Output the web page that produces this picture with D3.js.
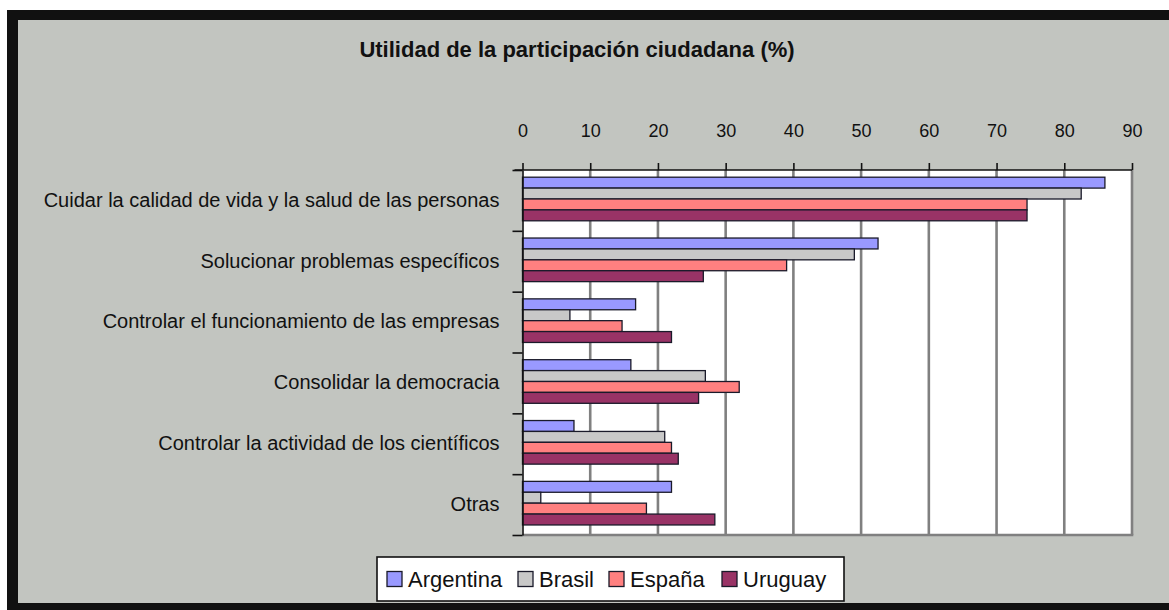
<!DOCTYPE html>
<html>
<head>
<meta charset="utf-8">
<script src="https://cdn.jsdelivr.net/npm/d3@7/dist/d3.min.js"></script>
<style>
  html, body { margin: 0; padding: 0; background: #ffffff; }
  svg { display: block; }
  text { font-family: "Liberation Sans", Arial, sans-serif; fill: #111; }
</style>
</head>
<body>
<svg id="chart" width="1169" height="610"></svg>
<script>
// Categories (top to bottom) and percentage per country
const categories = [
  "Cuidar la calidad de vida y la salud de las personas",
  "Solucionar problemas específicos",
  "Controlar el funcionamiento de las empresas",
  "Consolidar la democracia",
  "Controlar la actividad de los científicos",
  "Otras"
];
const countries = ["Argentina", "Brasil", "España", "Uruguay"];
const argentina = [86, 52.5, 16.7, 16, 7.6, 22];
const brasil    = [82.5, 49, 7, 27, 21, 2.7];
const espana    = [74.5, 39, 14.7, 32, 22, 18.3];
const uruguay   = [74.5, 26.7, 22, 26, 23, 28.4];
const xTicks = [0, 10, 20, 30, 40, 50, 60, 70, 80, 90];
const title = "Utilidad de la participación ciudadana (%)";

const seriesValues = [argentina, brasil, espana, uruguay];
const colors = ["#9999ff", "#c8c8c8", "#ff8080", "#993366"];

const svg = d3.select("#chart");
const W = 1169, H = 610;

// chart area background and frame
svg.append("rect").attr("x", 0).attr("y", 0).attr("width", W).attr("height", H).attr("fill", "#ffffff");
svg.append("rect").attr("x", 7).attr("y", 10).attr("width", W - 7).attr("height", H - 10).attr("fill", "#111111");
svg.append("rect").attr("x", 18).attr("y", 20).attr("width", W - 18).attr("height", 583).attr("fill", "#c2c5c0");

// plot geometry
const plot = { left: 522.5, right: 1132, top: 170, bottom: 535 };

const x = d3.scaleLinear().domain([0, 90]).range([plot.left, plot.right]);
const y = d3.scaleBand().domain(categories).range([plot.top, plot.bottom]);
const yInner = d3.scaleBand().domain(countries).range([7.2, 50.8]);
const yEdge = d3.scaleLinear().domain([0, categories.length]).range([plot.top, plot.bottom]);

// plot area
svg.append("rect")
  .attr("x", plot.left).attr("y", plot.top)
  .attr("width", plot.right - plot.left).attr("height", plot.bottom - plot.top)
  .attr("fill", "#ffffff");

// vertical gridlines
svg.append("g").selectAll("line").data(xTicks.slice(1)).join("line")
  .attr("x1", d => x(d)).attr("x2", d => x(d))
  .attr("y1", plot.top).attr("y2", plot.bottom)
  .attr("stroke", "#808080").attr("stroke-width", 2.6);

// bottom border of the plot
svg.append("line")
  .attr("x1", plot.left).attr("x2", plot.right + 1.3)
  .attr("y1", plot.bottom).attr("y2", plot.bottom)
  .attr("stroke", "#808080").attr("stroke-width", 2.6);

// bars
const rows = [];
categories.forEach((c, i) => {
  countries.forEach((s, j) => rows.push({ cat: c, country: s, value: seriesValues[j][i], color: colors[j] }));
});
svg.append("g").selectAll("rect").data(rows).join("rect")
  .attr("x", x(0))
  .attr("y", d => y(d.cat) + yInner(d.country))
  .attr("width", d => x(d.value) - x(0))
  .attr("height", yInner.bandwidth())
  .attr("fill", d => d.color)
  .attr("stroke", "#1a1a2a").attr("stroke-width", 1.3);

// top value axis
const xAxis = svg.append("g")
  .attr("transform", `translate(0,${plot.top})`)
  .call(d3.axisTop(x).tickValues(xTicks).tickSizeInner(7).tickSizeOuter(0).tickPadding(26).tickFormat(d3.format("d")));
xAxis.select(".domain").attr("stroke", "#111").attr("stroke-width", 1.6)
  .attr("d", `M${plot.left - 8},0H${plot.right}`);
xAxis.selectAll(".tick line").attr("stroke", "#111").attr("stroke-width", 1.6);
xAxis.selectAll(".tick text").style("font-size", "18px").attr("fill", "#111");

// left category axis: tick marks on the band edges
const yTickAxis = svg.append("g")
  .attr("transform", `translate(${plot.left},0)`)
  .call(d3.axisLeft(yEdge).tickValues(d3.range(categories.length + 1)).tickSizeInner(10).tickSizeOuter(0).tickFormat(""));
yTickAxis.select(".domain").attr("stroke", "#111").attr("stroke-width", 1.6);
yTickAxis.selectAll(".tick line").attr("stroke", "#111").attr("stroke-width", 1.6);

// left category axis: labels centred on each band
const yLabelAxis = svg.append("g")
  .attr("transform", `translate(${plot.left},0)`)
  .call(d3.axisLeft(y).tickSize(0).tickPadding(23));
yLabelAxis.select(".domain").remove();
yLabelAxis.selectAll(".tick text").style("font-size", "20px").attr("fill", "#111");

// title
svg.append("text")
  .attr("x", 577).attr("y", 57)
  .attr("text-anchor", "middle")
  .style("font-size", "22px").style("font-weight", "bold")
  .text(title);

// legend
const legend = svg.append("g");
legend.append("rect")
  .attr("x", 377).attr("y", 557).attr("width", 467).attr("height", 44)
  .attr("fill", "#ffffff").attr("stroke", "#111").attr("stroke-width", 1.6);
const legendX = [387, 518, 609, 722];
const items = legend.selectAll("g.item").data(countries).join("g")
  .attr("class", "item")
  .attr("transform", (d, i) => `translate(${legendX[i]},579)`);
items.append("rect")
  .attr("x", 0).attr("y", -7.5).attr("width", 15).attr("height", 15)
  .attr("fill", (d, i) => colors[i])
  .attr("stroke", "#1a1a2a").attr("stroke-width", 1.3);
items.append("text")
  .attr("x", 21).attr("y", 0).attr("dy", "0.36em")
  .style("font-size", "22px")
  .text(d => d);
</script>
</body>
</html>
